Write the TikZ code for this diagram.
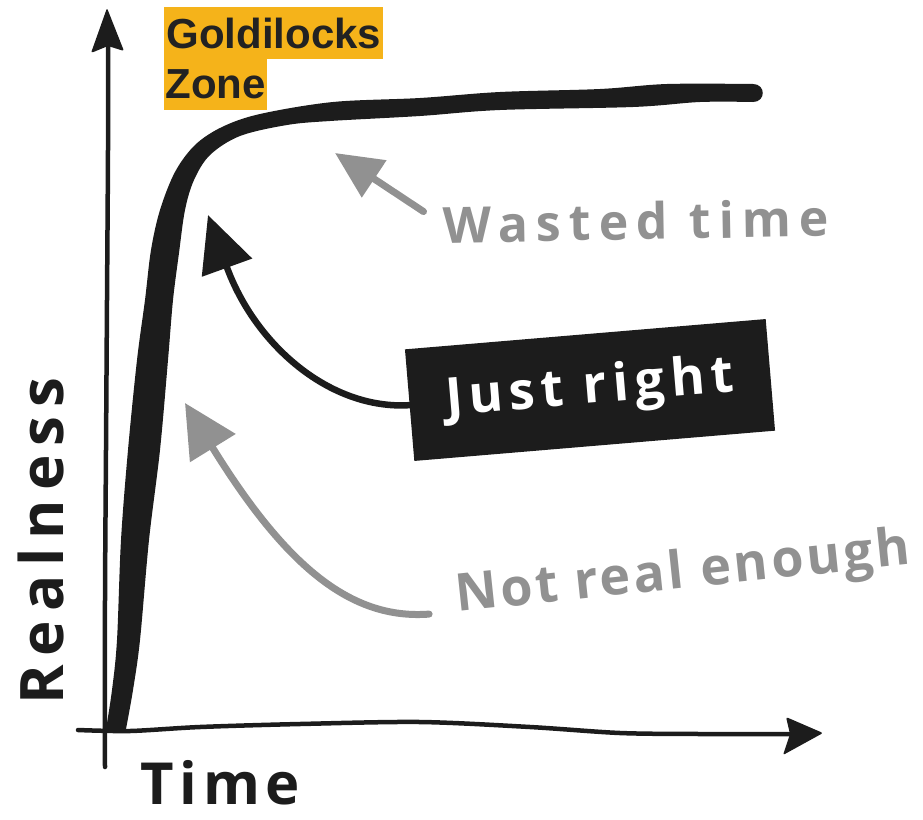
\documentclass[tikz,border=0pt]{standalone}
\usepackage{fontspec}
\usetikzlibrary{arrows.meta}
\newfontfamily\handfont{Open Sans}
\newfontfamily\goldfont{Liberation Sans}
\newcommand\handsz[2]{\handfont\bfseries\fontsize{#1pt}{#1pt}\selectfont\addfontfeature{LetterSpace=#2}}
\definecolor{ink}{HTML}{1C1C1C}
\definecolor{pencil}{HTML}{919191}
\definecolor{goldfill}{HTML}{F5B31A}
\definecolor{goldtext}{HTML}{222222}
\tikzset{
  axisline/.style={draw=ink, line width=4.5pt, line cap=round, line join=round},
  headfill/.style={fill=ink, rounded corners=2pt},
  goldbox/.style={fill=goldfill, text=goldtext, inner sep=0pt, anchor=north west,
    font=\goldfont\bfseries\fontsize{42pt}{42pt}\selectfont},
  plain/.style={inner sep=0pt},
  grayarrow/.style={draw=pencil, line width=7pt, line cap=round},
  blackarrow/.style={draw=ink, line width=6.5pt, line cap=round},
}
\begin{document}
\begin{tikzpicture}[x=1pt,y=-1pt]
\useasboundingbox (0,0) rectangle (923,819);

% axes
\draw[axisline] plot[smooth] coordinates {(105,767) (105,600) (106,450) (107,300) (108,150) (108,45)};
\fill[headfill] (107,8) -- (124,51) -- (108,46) -- (91,53) -- cycle;
\draw[axisline] plot[smooth] coordinates {(78,730) (130,731) (200,727) (300,724) (420,722) (530,727) (620,733) (700,734) (790,734)};
\fill[headfill] (823,733) -- (786,717) -- (790,734) -- (783,755) -- cycle;

% the thick curve
\fill[ink] plot[smooth,tension=0.55] coordinates {(106,729) (112,690) (117,640) (121,540) (128,450) (137,360) (145,300) (151,250) (160,210) (175,172) (195,145) (222,127) (260,114) (333,102) (420,98) (500,92) (600,89) (667,84) (753,84)}
  .. controls (766,84) and (766,102) .. (753,102)
  -- plot[smooth,tension=0.55] coordinates {(753,102) (700,102) (633,107) (500,110) (420,116) (330,121) (287,125) (240,136) (210,155) (194,180) (185,210) (179,253) (173,300) (168,360) (160,450) (149,540) (140,640) (133,690) (126,729)} -- cycle;

% Goldilocks zone label
\node[goldbox, minimum width=219pt, minimum height=52pt] (gz1) at (164,7) {Goldilocks};
\node[goldbox, minimum width=103pt, minimum height=51pt] (gz2) at (164,59) {Zone};

% axis labels
\node[plain, text=ink, rotate=90, anchor=base west, font=\handsz{60}{15}] (real) at (63,705) {Realness};
\node[plain, text=ink, anchor=base west, font=\handsz{58}{10}] (time) at (140,804) {Time};

% annotations
\node[plain, text=pencil, anchor=base west, rotate=1, font=\handsz{50}{16}] (wt) at (443,243) {Wasted time};
\node[fill=ink, text=white, rotate=4.8, minimum width=362pt, minimum height=112pt, inner sep=0pt,
  font=\handsz{52}{12}] (jr) at (590,390) {Just right};
\node[plain, text=pencil, anchor=base west, rotate=6, font=\handsz{52}{6}] (nr) at (457,612) {Not real enough};

\coordinate (wtTip) at (335,153);
\coordinate (jrTip) at (208,215);
\coordinate (nrTip) at (185,403);

\draw[grayarrow, shorten <=23pt, -{Triangle[length=47pt,width=43pt]}] (wt.west) -- (wtTip);
\draw[blackarrow, -{Triangle[length=56pt,width=52pt]}] (jr.west) .. controls (330,410) and (255,345) .. (jrTip);
\draw[grayarrow, shorten <=28pt, -{Triangle[length=53pt,width=52pt]}] (nr.base west) .. controls (350,620) and (285,565) .. (nrTip);
\end{tikzpicture}
\end{document}
